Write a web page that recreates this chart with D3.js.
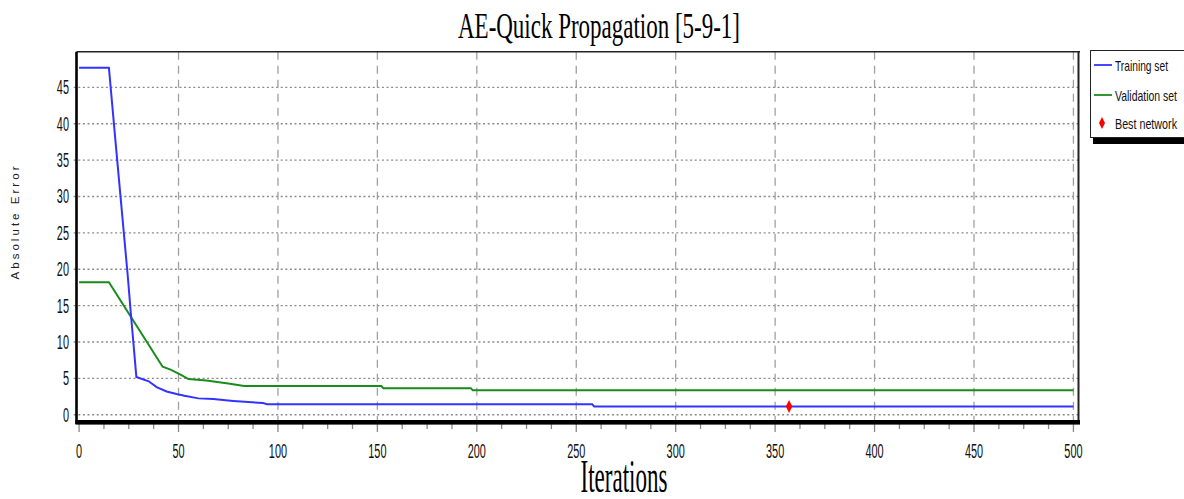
<!DOCTYPE html>
<html><head><meta charset="utf-8">
<script src="https://cdn.jsdelivr.net/npm/d3@7"></script>
<style>body{margin:0;background:#fff}svg{display:block}</style>
</head><body>
<svg id="c" width="1184" height="499"></svg>
<script>
const trainIter = [0,15,18.5,24.5,26,28.8,35,39,44,49,53,60,67.5,77.5,92.5,94.5,258,259,500];
const trainVal  = [47.7,47.7,37,19,14,5.2,4.6,3.8,3.2,2.85,2.6,2.25,2.15,1.9,1.6,1.45,1.45,1.15,1.15];
const validIter = [0,15,42,46,51,55,64,75,83,152,153,197,198,500];
const validVal  = [18.2,18.2,6.6,6.2,5.5,4.9,4.7,4.3,3.95,3.95,3.65,3.65,3.35,3.35];
const bestIter = [357];
const bestVal = [1.15];
const xTicks = [0,50,100,150,200,250,300,350,400,450,500];
const yTicks = [0,5,10,15,20,25,30,35,40,45];
const legendLabels = ["Training set","Validation set","Best network"];
const titleText = "AE-Quick Propagation [5-9-1]";
const xTitle = "Iterations";
const yTitle = "Absolute Error";

const svg = d3.select("#c");
const x = d3.scaleLinear().domain([-1.2, 502.3]).range([76.7, 1078]);
const y = d3.scaleLinear().domain([-0.75, 49.9]).range([420.2, 51.7]);
const L = 76.7, R = 1078, T = 51.7, B = 420.2;

// grid
const g = svg.append("g");
g.selectAll(".hg").data(yTicks).enter().append("line")
  .attr("x1", L-3).attr("x2", R).attr("y1", d=>y(d)).attr("y2", d=>y(d))
  .attr("stroke", "#8a8a8a").attr("stroke-width", 1.3).attr("stroke-dasharray", "2,2.6");
g.selectAll(".vg").data(xTicks.filter(d=>d>0)).enter().append("line")
  .attr("x1", d=>x(d)).attr("x2", d=>x(d)).attr("y1", T).attr("y2", B)
  .attr("stroke", "#a0a0a0").attr("stroke-width", 1.3).attr("stroke-dasharray", "8,6");

// x axis ticks (minor every 12.5)
const minor = d3.range(0, 501, 12.5);
svg.selectAll(".xt").data(minor).enter().append("line")
  .attr("x1", d=>x(d)).attr("x2", d=>x(d))
  .attr("y1", 424).attr("y2", d => d % 50 === 0 ? 432 : 429)
  .attr("stroke", "#888").attr("stroke-width", 1.3);

// borders
svg.append("line").attr("x1", L).attr("x2", 1080).attr("y1", T).attr("y2", T).attr("stroke", "#222").attr("stroke-width", 1.5);
svg.append("line").attr("x1", 1078.5).attr("x2", 1078.5).attr("y1", T).attr("y2", 424).attr("stroke", "#222").attr("stroke-width", 2);
svg.append("rect").attr("x", 75.5).attr("y", 420).attr("width", 1080-75.5).attr("height", 4.6).attr("fill", "#000");
svg.append("line").attr("x1", 76.5).attr("x2", 76.5).attr("y1", T).attr("y2", 424).attr("stroke", "#000").attr("stroke-width", 2.6);

// lines
const line = d3.line().x(d=>x(d[0])).y(d=>y(d[1]));
svg.append("path").datum(validIter.map((d,i)=>[d, validVal[i]]))
  .attr("d", line).attr("fill","none").attr("stroke","#1a8c1a").attr("stroke-width", 2);
svg.append("path").datum(trainIter.map((d,i)=>[d, trainVal[i]]))
  .attr("d", line).attr("fill","none").attr("stroke","#3333ff").attr("stroke-width", 2);

// best network diamond
const diamond = (cx, cy, w, h) => `M${cx},${cy-h/2}L${cx+w/2},${cy}L${cx},${cy+h/2}L${cx-w/2},${cy}Z`;
svg.selectAll(".best").data(bestIter).enter().append("path")
  .attr("d", (d,i)=>diamond(x(d), y(bestVal[i]), 6.5, 13)).attr("fill","#ff0000");

// tick labels
const numFont = "'Liberation Sans', Arial, sans-serif";
svg.selectAll(".yl").data(yTicks).enter().append("text")
  .attr("transform", d=>`translate(69,${y(d)+7}) scale(0.52,1)`)
  .attr("text-anchor","end").attr("font-family", numFont).attr("font-size", 21)
  .attr("fill","#111").text(d=>d);
svg.selectAll(".xl").data(xTicks).enter().append("text")
  .attr("transform", d=>`translate(${x(d)},458) scale(0.52,1)`)
  .attr("text-anchor","middle").attr("font-family", numFont).attr("font-size", 21)
  .attr("fill","#111").text(d=>d);

// titles
svg.append("text").attr("x", 599).attr("y", 38).attr("text-anchor","middle")
  .attr("font-family","'Liberation Serif', 'Times New Roman', serif").attr("font-size", 35)
  .attr("textLength", 282).attr("lengthAdjust","spacingAndGlyphs").attr("fill","#000").text(titleText);
svg.append("text").attr("x", 624).attr("y", 492).attr("text-anchor","middle")
  .attr("font-family","'Liberation Serif', 'Times New Roman', serif").attr("font-size", 46)
  .attr("textLength", 87).attr("lengthAdjust","spacingAndGlyphs").attr("fill","#000").text(xTitle);
svg.append("text").attr("transform","translate(19,223) rotate(-90)").attr("text-anchor","middle")
  .attr("font-family","'Liberation Sans', Arial, sans-serif").attr("font-size", 11.5)
  .attr("textLength", 113).attr("lengthAdjust","spacing").attr("fill","#222").text(yTitle);

// legend
svg.append("rect").attr("x", 1093).attr("y", 137).attr("width", 100).attr("height", 7).attr("fill","#000");
svg.append("rect").attr("x", 1090.5).attr("y", 50.5).attr("width", 100).attr("height", 87)
  .attr("fill","#fff").attr("stroke","#222").attr("stroke-width", 1);
const legY = [65, 95, 123];
const legColors = ["#3333ff","#1a8c1a","#ff0000"];
const legLen = [53, 62, 62];
legendLabels.forEach((lab, i) => {
  if (i < 2) {
    svg.append("line").attr("x1", 1094).attr("x2", 1112).attr("y1", legY[i]).attr("y2", legY[i])
      .attr("stroke", legColors[i]).attr("stroke-width", 1.8);
  } else {
    svg.append("path").attr("d", diamond(1102, legY[i], 6, 12)).attr("fill", legColors[i]);
  }
  svg.append("text").attr("x", 1115).attr("y", legY[i] + 5.5)
    .attr("font-family","'Liberation Sans', Arial, sans-serif").attr("font-size", 15)
    .attr("textLength", legLen[i]).attr("lengthAdjust","spacingAndGlyphs")
    .attr("fill","#111").text(lab);
});
</script>
</body></html>
